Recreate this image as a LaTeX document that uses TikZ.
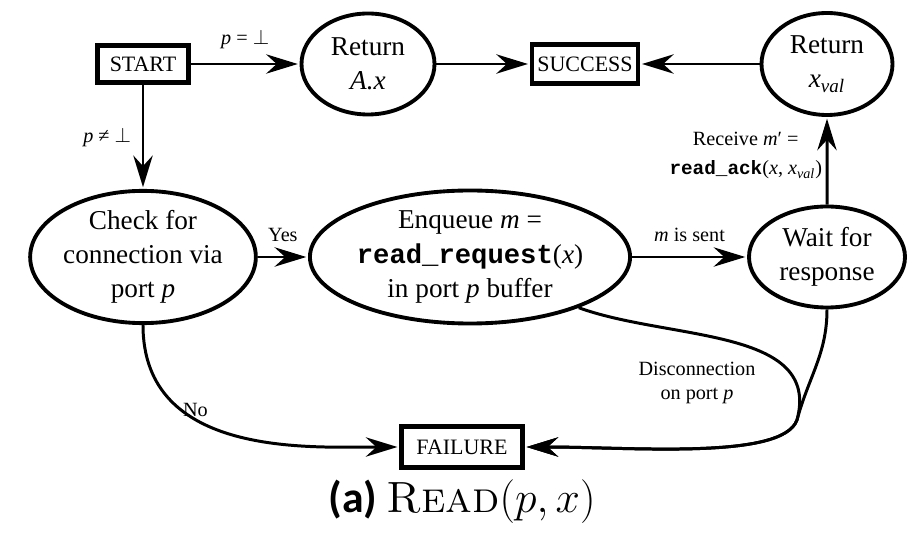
\documentclass[tikz,border=0pt]{standalone}
\usepackage{fontspec}
\setmainfont{Liberation Serif}
\setmonofont{Liberation Mono}
\newfontfamily\capsans{Carlito}
\newfontfamily\lmfont{lmroman10-regular}[Extension=.otf, SmallCapsFont=lmromancaps10-regular]
\usetikzlibrary{arrows,arrows.meta,shapes,positioning}

\tikzset{
  state/.style={draw, ellipse, line width=2.2pt, inner sep=0pt, align=center,
    font=\fontsize{15.5}{19.5}\selectfont},
  term/.style={draw, rectangle, line width=2.6pt, inner sep=0pt, minimum height=0.74cm,
    font=\fontsize{12.5}{14}\selectfont},
  lbl/.style={font=\fontsize{11.5}{14}\selectfont, inner sep=8pt},
}

\begin{document}
\begin{tikzpicture}[->,>={Stealth[length=18pt,width=11pt,inset=6pt]},shorten >=1pt,auto,node distance=1cm,line width=1.7pt]
			\useasboundingbox (-2.86,-9.38) rectangle (15.5,1.28);

			\node[term, minimum width=1.82cm] (start) {START};
			\node[state, minimum width=2.66cm, minimum height=2.02cm] (retA) [right of=start, xshift=3.5cm] {Return\\\textit{A.x}};
			\node[term, minimum width=2.12cm, minimum height=0.78cm] (succ) [right of=retA, xshift=3.34cm] {SUCCESS};
			\node[state, minimum width=2.62cm, minimum height=2.04cm] (retX) [right of=succ, xshift=3.84cm] {Return\\\textit{x}\textsubscript{\textit{val}}};
			\node[state, minimum width=4.38cm, minimum height=2.64cm] (check) [below of=start, yshift=-2.86cm] {Check for\\connection via\\port \textit{p}};
			\node[state, minimum width=5.44cm, minimum height=2.66cm] (enq) [right of=check, xshift=5.54cm] {Enqueue \textit{m} =\\\textbf{\texttt{read\_request}}(\textit{x})\\in port \textit{p} buffer};
			\node[state, minimum width=3.12cm, minimum height=2.02cm] (wait) [right of=enq, xshift=6.14cm] {Wait for\\response};
			\node[term, minimum width=2.42cm, minimum height=0.82cm] (fail) [below of=enq, yshift=-2.8cm, xshift=-0.16cm] {FAILURE};
			\coordinate [below of=wait, yshift=-2.26cm, xshift=-0.6cm] (join);
			\node (cap) [below of=fail, yshift=-0.1cm] {{\capsans\bfseries\Huge (a)}\hspace{5pt}{\Huge\lmfont\textsc{Read}$(p, x)$}};

			\path
			(start) edge              node[lbl] {\textit{p} = $\perp$} (retA)
			        edge              node[lbl, swap, inner sep=6pt] {\textit{p} ≠ $\perp$} (check)
			(retA)  edge              node {} (succ)
			(retX)  edge              node {} (succ)
			(check) edge              node[lbl] {Yes} (enq)
			        edge[out=-90,in=180,out looseness=1.2,in looseness=0.8]
			                          node[lbl, pos=0.3, right, xshift=-8pt] {No} (fail)
			(enq)   edge              node[lbl] {\textit{m} is sent} (wait)
			(wait)  edge              node[lbl, align=center, inner sep=2pt, yshift=3pt] {Receive \textit{m}′ =\\[3pt]
			                                    {\fontsize{11}{13}\selectfont\textbf{\texttt{read\_ack}}}(\textit{x}, \textit{x}\textsubscript{\textit{val}})} (retX);

			\draw (enq.-25) to[out=-20,in=75] (join) to[out=250,in=0,out looseness=0.4] (fail.east);
			\draw (wait.south) to[out=-90,in=75] (join) to[out=250,in=0,out looseness=0.4] (fail.east);
			\node[lbl, align=center, inner sep=0pt] (disc) [left of=join, xshift=-1.0cm, yshift=0.74cm] {Disconnection\\on port \textit{p}};
\end{tikzpicture}
\end{document}
